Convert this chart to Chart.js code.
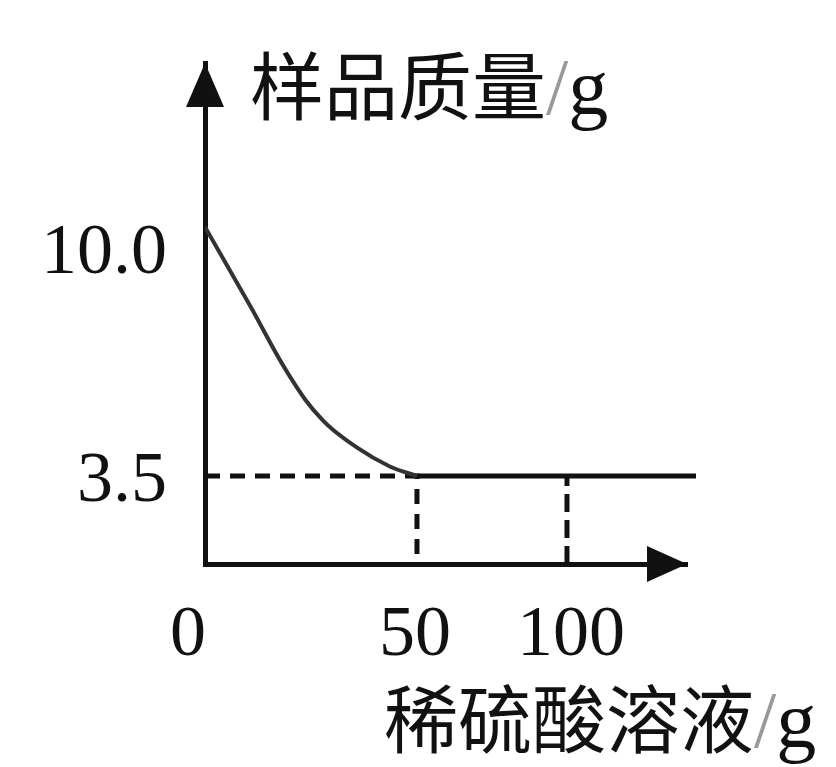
<!DOCTYPE html>
<html>
<head>
<meta charset="utf-8">
<script src="https://cdn.jsdelivr.net/npm/chart.js@4"></script>
<style>
  html, body { margin: 0; background: #fff; }
  canvas { display: block; }
</style>
</head>
<body>
<canvas id="massChart" width="836" height="767"></canvas>
<script>
// values
const curveAcid = [0, 10.6, 20, 27.8, 35.8, 43.6, 50];
const curveMass = [10, 7.95, 6.1, 4.95, 4.25, 3.75, 3.5];
const flatAcid = [50, 143];
const flatMass = [3.5, 3.5];
const guideAcid = [0, 50, 50];
const guideMass = [3.5, 3.5, 0];
const guide2Acid = [100, 100];
const guide2Mass = [0, 3.5];
const xTicks = [0, 50, 100];
const yTicks = [10.0, 3.5];
const xTitle = '稀硫酸溶液';
const yTitle = '样品质量';
const unit = 'g';

const toPoints = (xs, ys) => xs.map((x, i) => ({ x: x, y: ys[i] }));

// the drawing is not to scale, so the axes are linear piece by piece
class PiecewiseScale extends Chart.LinearScale {
    getPixelForValue(value) {
        const vs = this.options.stopValues;
        const fs = this.options.stopFractions;
        let i = 1;
        while (i < vs.length - 1 && value > vs[i]) i++;
        const t = (value - vs[i - 1]) / (vs[i] - vs[i - 1]);
        return this.getPixelForDecimal(fs[i - 1] + t * (fs[i] - fs[i - 1]));
    }
    getValueForPixel(pixel) {
        const vs = this.options.stopValues;
        const fs = this.options.stopFractions;
        const d = this.getDecimalForPixel(pixel);
        let i = 1;
        while (i < fs.length - 1 && d > fs[i]) i++;
        const t = (d - fs[i - 1]) / (fs[i] - fs[i - 1]);
        return vs[i - 1] + t * (vs[i] - vs[i - 1]);
    }
}
PiecewiseScale.id = 'piecewise';
PiecewiseScale.defaults = Chart.LinearScale.defaults;
Chart.register(PiecewiseScale);

const ink = '#111';

const axisDecor = {
    id: 'axisDecor',
    afterDatasetsDraw(chart) {
        const { ctx, chartArea: a, scales: { x, y } } = chart;
        ctx.save();
        ctx.fillStyle = ink;

        // arrow heads
        ctx.beginPath();
        ctx.moveTo(a.left, a.top);
        ctx.lineTo(a.left - 19, a.top + 44);
        ctx.lineTo(a.left + 19, a.top + 44);
        ctx.closePath();
        ctx.fill();
        ctx.beginPath();
        ctx.moveTo(a.right, a.bottom);
        ctx.lineTo(a.right - 40, a.bottom - 18);
        ctx.lineTo(a.right - 40, a.bottom + 18);
        ctx.closePath();
        ctx.fill();

        // tick labels
        ctx.font = '72px "Liberation Serif"';
        ctx.textAlign = 'right';
        ctx.textBaseline = 'middle';
        const yNudge = { 10: 27, 3.5: 6 };
        yTicks.forEach(v => {
            ctx.fillText(v.toFixed(1), a.left - 38, y.getPixelForValue(v) + (yNudge[v] || 0));
        });
        ctx.textAlign = 'center';
        ctx.textBaseline = 'alphabetic';
        const xNudge = { 0: -17, 50: -2, 100: 4 };
        xTicks.forEach(v => {
            ctx.fillText(String(v), x.getPixelForValue(v) + (xNudge[v] || 0), a.bottom + 91);
        });

        // axis titles
        const title = (text, left, base) => {
            ctx.textAlign = 'left';
            ctx.font = '74px "Noto Sans CJK SC"';
            ctx.fillStyle = ink;
            ctx.fillText(text, left, base);
            let cx = left + ctx.measureText(text).width;
            ctx.font = '80px "Liberation Serif"';
            ctx.fillStyle = '#999';
            ctx.fillText('/', cx, base);
            cx += ctx.measureText('/').width;
            ctx.fillStyle = ink;
            ctx.fillText(unit, cx, base);
        };
        title(yTitle, a.left + 45, 114);
        title(xTitle, 384, 747);
        ctx.restore();
    }
};

new Chart(document.getElementById('massChart'), {
    type: 'line',
    data: {
        datasets: [
            {
                data: toPoints(curveAcid, curveMass),
                borderColor: '#333',
                borderWidth: 4,
                tension: 0.4,
                pointRadius: 0
            },
            {
                data: toPoints(flatAcid, flatMass),
                borderColor: ink,
                borderWidth: 5,
                pointRadius: 0,
                clip: false
            },
            {
                data: toPoints(guideAcid, guideMass),
                borderColor: ink,
                borderWidth: 5,
                borderDash: [15, 10],
                pointRadius: 0
            },
            {
                data: toPoints(guide2Acid, guide2Mass),
                borderColor: ink,
                borderWidth: 5,
                borderDash: [18, 8],
                pointRadius: 0
            }
        ]
    },
    options: {
        responsive: false,
        animation: false,
        layout: { padding: { left: 205, right: 149, top: 63, bottom: 203 } },
        plugins: { legend: { display: false }, tooltip: { enabled: false } },
        scales: {
            x: {
                type: 'piecewise',
                min: 0,
                max: 140,
                stopValues: [0, 50, 100, 140],
                stopFractions: [0, 0.4398, 0.751, 1],
                grid: { display: false, drawTicks: false },
                ticks: { display: false },
                border: { color: ink, width: 5 }
            },
            y: {
                type: 'piecewise',
                min: 0,
                max: 14.3,
                stopValues: [0, 3.5, 10, 14.3],
                stopFractions: [0, 0.1756, 0.6727, 1],
                grid: { display: false, drawTicks: false },
                ticks: { display: false },
                border: { color: ink, width: 5 }
            }
        }
    },
    plugins: [axisDecor]
});
</script>
</body>
</html>
